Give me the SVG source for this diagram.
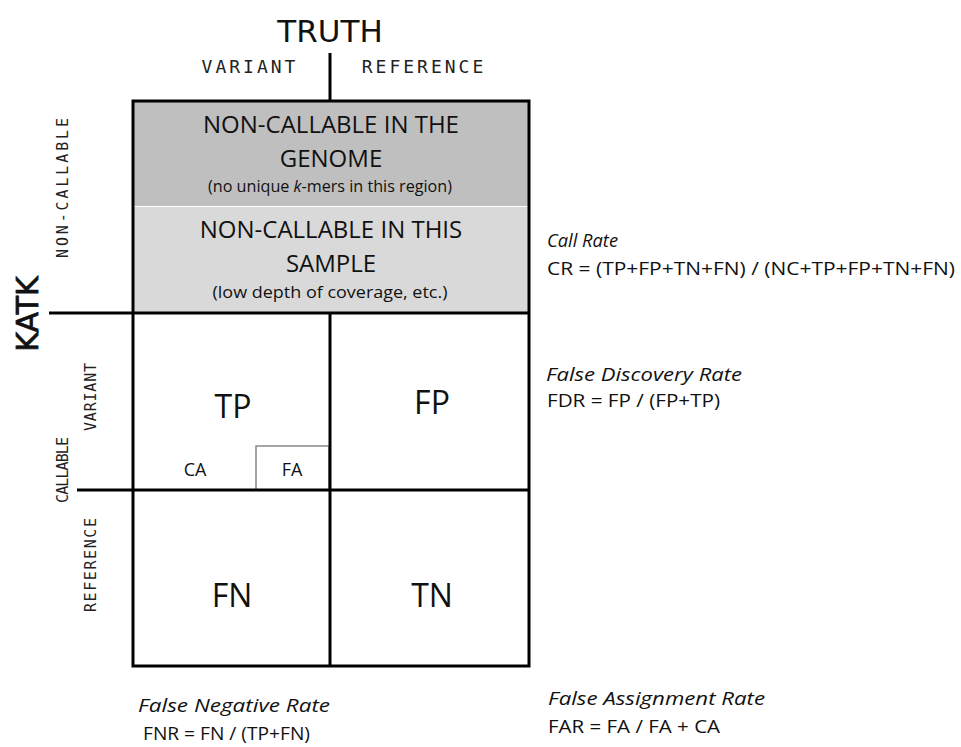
<svg xmlns="http://www.w3.org/2000/svg" width="961" height="747" viewBox="0 0 961 747">
<style>
.hdr{font-family:"DejaVu Sans",sans-serif;fill:#111}
.mono{font-family:"DejaVu Sans Mono",monospace;fill:#222;letter-spacing:3px}
.side{font-family:"DejaVu Sans Mono",monospace;fill:#222;font-size:15px}
.cell{font-family:"Open Sans",sans-serif;fill:#111;text-anchor:middle}
.note{font-family:"Open Sans",sans-serif;fill:#111;font-size:19px}
.it{font-style:italic}
.ln{stroke:#000;stroke-width:3;fill:none}
</style>
<rect width="961" height="747" fill="#fff"/>
<g id="headers">
<text class="hdr" x="330" y="42" font-size="31" text-anchor="middle">TRUTH</text>
<text class="mono" x="250" y="73" font-size="18" text-anchor="middle">VARIANT</text>
<text class="mono" x="424" y="73" font-size="18" text-anchor="middle">REFERENCE</text>
<text class="hdr" transform="translate(38,314) rotate(-90)" font-size="30" text-anchor="middle" stroke="#111" stroke-width="0.8">KATK</text>
<text class="side" transform="translate(68,188) rotate(-90)" text-anchor="middle" textLength="140" lengthAdjust="spacing">NON-CALLABLE</text>
<text class="side" transform="translate(96,397) rotate(-90)" text-anchor="middle" textLength="68" lengthAdjust="spacing">VARIANT</text>
<text class="side" transform="translate(68,470) rotate(-90)" text-anchor="middle" textLength="66" lengthAdjust="spacing">CALLABLE</text>
<text class="side" transform="translate(96,565) rotate(-90)" text-anchor="middle" textLength="94" lengthAdjust="spacing">REFERENCE</text>
</g>
<g id="nc-genome">
<rect x="133" y="101" width="396" height="105" fill="#bfbfbf"/>
<text class="cell" x="331" y="133" font-size="24">NON-CALLABLE IN THE</text>
<text class="cell" x="331" y="167" font-size="24">GENOME</text>
<text class="cell" x="330" y="192" font-size="16" textLength="244" lengthAdjust="spacingAndGlyphs">(no unique <tspan font-style="italic">k</tspan>-mers in this region)</text>
</g>
<g id="nc-sample">
<rect x="133" y="207" width="396" height="106" fill="#d9d9d9"/>
<text class="cell" x="331" y="238" font-size="24">NON-CALLABLE IN THIS</text>
<text class="cell" x="331" y="272" font-size="24">SAMPLE</text>
<text class="cell" x="330" y="298" font-size="16" textLength="235" lengthAdjust="spacingAndGlyphs">(low depth of coverage, etc.)</text>
</g>
<g id="tp"><text class="cell" x="233" y="418" font-size="32">TP</text></g>
<g id="ca"><text class="cell" x="195" y="476" font-size="18">CA</text></g>
<g id="fa"><rect x="256" y="446" width="73" height="44" fill="none" stroke="#888" stroke-width="1.5"/><text class="cell" x="292" y="476" font-size="18">FA</text></g>
<g id="fp"><text class="cell" x="432" y="414" font-size="32">FP</text></g>
<g id="fn"><text class="cell" x="232" y="607" font-size="32">FN</text></g>
<g id="tn"><text class="cell" x="432" y="607" font-size="32">TN</text></g>
<g id="connectors">
<rect class="ln" x="133" y="101" width="396" height="565"/>
<line class="ln" x1="330" y1="53" x2="330" y2="101"/>
<line class="ln" x1="49" y1="313" x2="529" y2="313"/>
<line class="ln" x1="77" y1="490" x2="529" y2="490"/>
<line class="ln" x1="330" y1="313" x2="330" y2="666"/>
</g>
<g id="formulas">
<text class="note it" x="547" y="247" textLength="71" lengthAdjust="spacingAndGlyphs">Call Rate</text>
<text class="note" x="547" y="275" textLength="408" lengthAdjust="spacingAndGlyphs">CR = (TP+FP+TN+FN) / (NC+TP+FP+TN+FN)</text>
<text class="note it" x="546" y="381" textLength="196" lengthAdjust="spacingAndGlyphs">False Discovery Rate</text>
<text class="note" x="547" y="407" textLength="173" lengthAdjust="spacingAndGlyphs">FDR = FP / (FP+TP)</text>
<text class="note it" x="138" y="712" textLength="192" lengthAdjust="spacingAndGlyphs">False Negative Rate</text>
<text class="note" x="143" y="740" textLength="167" lengthAdjust="spacingAndGlyphs">FNR = FN / (TP+FN)</text>
<text class="note it" x="548" y="705" textLength="217" lengthAdjust="spacingAndGlyphs">False Assignment Rate</text>
<text class="note" x="548" y="733" textLength="172" lengthAdjust="spacingAndGlyphs">FAR = FA / FA + CA</text>
</g>
</svg>
